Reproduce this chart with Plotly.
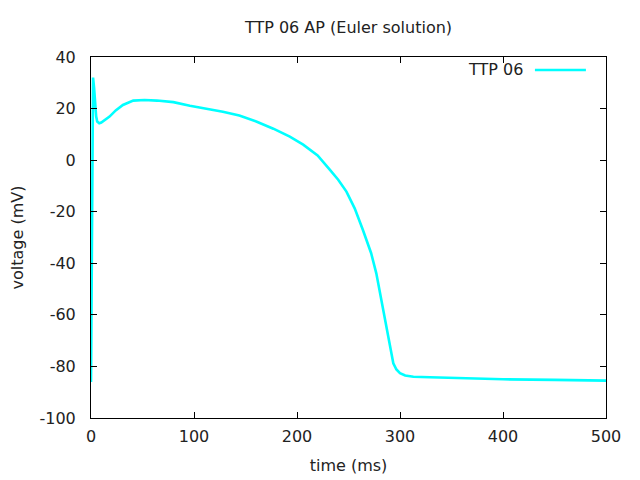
import plotly.graph_objects as go

# TTP06 action potential
time_ms = [0, 0.5, 1, 1.5, 2, 3, 4, 5, 6, 8,
           10, 14, 18, 24, 31, 41, 52, 64, 80, 96,
           112, 128, 144, 161, 177, 193, 206, 220, 232, 240,
           248, 256, 264, 272, 277, 282, 287, 290.3, 293.5, 296.5,
           300, 305, 313, 329, 360, 400, 450, 500]
voltage_mv = [-86, -60, 0, 25, 32, 28, 22, 17, 15, 14.3,
              14.6, 15.8, 16.9, 19.3, 21.4, 23.1, 23.3, 23.1, 22.5, 21.1,
              20, 18.8, 17.3, 14.9, 12.2, 9.1, 6.0, 1.8, -3.8, -7.6,
              -12.2, -18.7, -27.1, -36.1, -43.9, -54.2, -64.6, -72.3, -78.8, -81.2,
              -82.6, -83.5, -84, -84.2, -84.6, -85, -85.2, -85.5]

x_ticks = [0, 100, 200, 300, 400, 500]
y_ticks = [-100, -80, -60, -40, -20, 0, 20, 40]

font = "DejaVu Sans"
text_color = "#222222"
line_color = "#00ffff"

fig = go.Figure()
fig.add_trace(go.Scatter(
    x=time_ms, y=voltage_mv, mode="lines",
    line=dict(color=line_color, width=2.6),
    showlegend=False, name="TTP 06",
))

axis_common = dict(
    showgrid=False, zeroline=False, showline=True, linecolor="black", linewidth=1,
    mirror="ticks", ticks="inside", ticklen=6, tickcolor="black", tickwidth=1,
    tickfont=dict(family=font, size=16, color=text_color), automargin=False,
)

fig.update_layout(
    width=640, height=480,
    margin=dict(l=83, r=42, t=49, b=70),
    paper_bgcolor="white", plot_bgcolor="white",
    title=dict(text="TTP 06 AP (Euler solution)", x=0.5, xref="paper", xanchor="center",
               y=1 - 19 / 480, yanchor="middle",
               font=dict(family=font, size=16, color=text_color)),
    xaxis=dict(range=[0, 500], tickvals=x_ticks, ticktext=[str(v) for v in x_ticks],
               ticklabelstandoff=4,
               title=dict(text="time (ms)", font=dict(family=font, size=16, color=text_color), standoff=14),
               **axis_common),
    yaxis=dict(range=[-100, 40], tickvals=y_ticks, ticktext=[str(v) for v in y_ticks],
               ticklabelstandoff=11,
               title=dict(text="voltage (mV)", font=dict(family=font, size=16, color=text_color), standoff=14),
               **axis_common),
)

# gnuplot-style key: label on the left, line sample on the right
fig.add_annotation(x=0.842, y=0.964, xref="paper", yref="paper", text="TTP 06",
                   showarrow=False, xanchor="right", yanchor="middle",
                   font=dict(family=font, size=16, color=text_color))
fig.add_shape(type="line", xref="paper", yref="paper", x0=0.862, x1=0.961, y0=0.964, y1=0.964,
              line=dict(color=line_color, width=2.6))

fig.write_html("out.html")
